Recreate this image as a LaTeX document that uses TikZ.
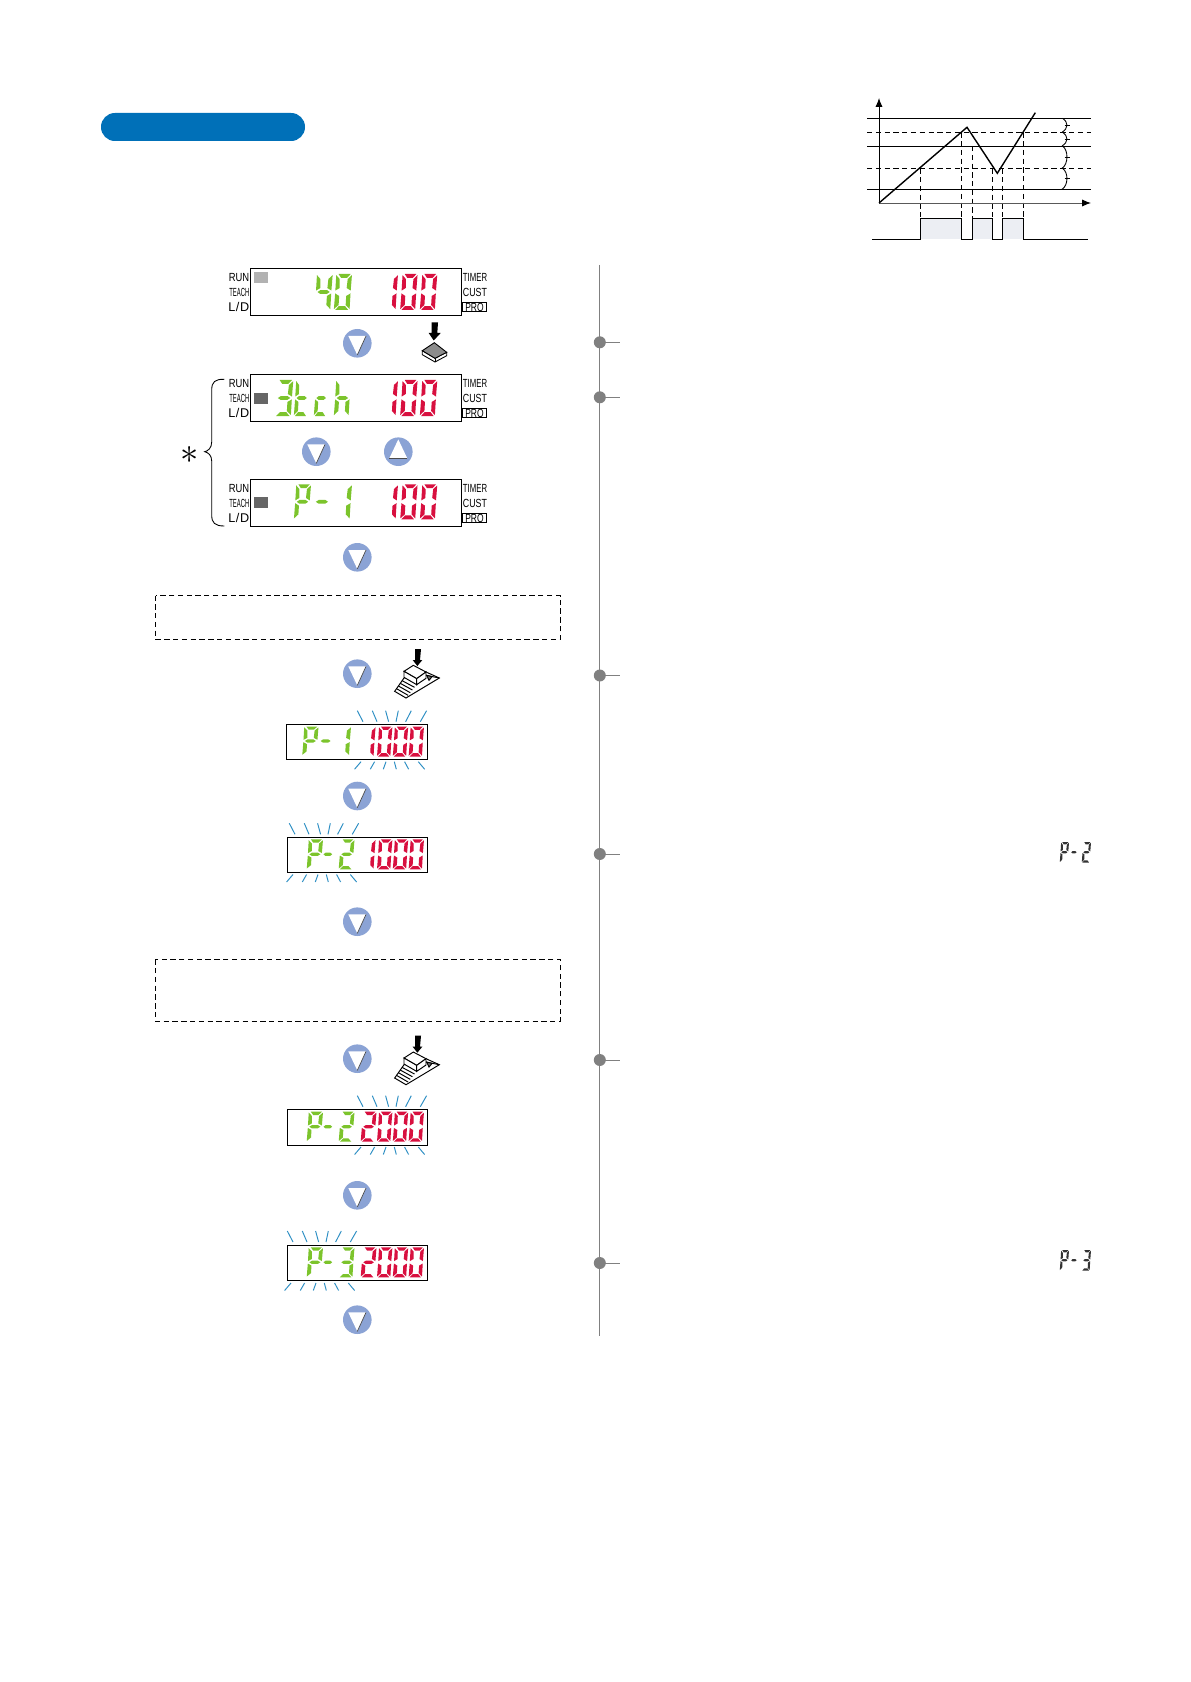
\documentclass[tikz,border=0pt]{standalone}
\usepackage{fontspec}
\setmainfont{Liberation Sans}
\usetikzlibrary{arrows.meta}

\definecolor{pillblue}{HTML}{0070B8}
\definecolor{lcdgreenc}{HTML}{7CC42C}
\definecolor{lcdredc}{HTML}{D8103F}
\definecolor{btnblue}{HTML}{8BA3D5}
\definecolor{rayblue}{HTML}{2E8FC4}
\definecolor{pulsefill}{HTML}{ECEEF3}
\definecolor{railgray}{HTML}{808080}

\tikzset{
  lcdbox/.style={draw=black,line width=0.7pt,fill=white},
  lcdgreen/.style={fill=lcdgreenc},
  lcdred/.style={fill=lcdredc},
  lcdblack/.style={fill=black!80},
  sidelabel/.style={font=\fontsize{6.7}{6.7}\selectfont,inner sep=0pt},
  ray/.style={draw=rayblue,line width=0.55pt},
  rail/.style={draw=railgray,line width=0.45pt},
  gridline/.style={line width=0.55pt},
  griddash/.style={line width=0.5pt,dash pattern=on 3pt off 2pt},
  dashbox/.style={draw=black,line width=0.45pt,dash pattern=on 3pt off 2pt}
}

% segments of one digit, x 0..1 and y 0..2
\newcommand{\sega}{(.16,0) -- (.92,0) -- (.7,.22) -- (.34,.22) -- cycle}
\newcommand{\segb}{(1,.06) -- (.98,.92) -- (.72,.78) -- (.75,.28) -- cycle}
\newcommand{\segc}{(.98,1.08) -- (.98,1.95) -- (.72,1.72) -- (.72,1.22) -- cycle}
\newcommand{\segd}{(.08,2) -- (.9,2) -- (.68,1.78) -- (.3,1.78) -- cycle}
\newcommand{\sege}{(0,1.95) -- (.02,1.08) -- (.28,1.22) -- (.28,1.72) -- cycle}
\newcommand{\segf}{(.02,.06) -- (.02,.92) -- (.28,.78) -- (.25,.28) -- cycle}
\newcommand{\segg}{(.12,1) -- (.3,.89) -- (.7,.89) -- (.88,1) -- (.7,1.11) -- (.3,1.11) -- cycle}

\newcommand{\chrzero}{a,b,c,d,e,f}
\newcommand{\chrone}{b,c}
\newcommand{\chrtwo}{a,b,g,e,d}
\newcommand{\chrthree}{a,b,g,c,d}
\newcommand{\chrfour}{f,g,b,c}
\newcommand{\chrP}{a,b,f,g,e}
\newcommand{\chrdash}{g}
\newcommand{\chrt}{f,e,g,d}
\newcommand{\chrc}{g,e,d}
\newcommand{\chrh}{f,e,g,c}

% x, y, width, height, character, style
\newcommand{\lcdchar}[6]{%
  \begin{scope}[shift={(#1,#2)},xslant=.06,xscale=#3,yscale=#4/2]
    \edef\seglist{\csname chr#5\endcsname}
    \foreach \segname in \seglist {
      \expandafter\let\expandafter\segpath\csname seg\segname\endcsname
      \path[#6] \segpath;
    }
  \end{scope}}

\newcommand{\redhundred}[2]{%
  \lcdchar{383}{#1}{15}{#2}{one}{lcdred}
  \lcdchar{402.3}{#1}{15.3}{#2}{zero}{lcdred}
  \lcdchar{422}{#1}{15.3}{#2}{zero}{lcdred}}

\newcommand{\redzeros}[1]{%
  \foreach \px in {378.8,394.6,410.4} \lcdchar{\px}{#1}{13.6}{30}{zero}{lcdred};}

% top of box, name, fill and top of the small square
\newcommand{\bigdisplay}[4]{%
  \draw[lcdbox] (250.3,#1) rectangle (461.7,#1+47);
  \fill[#3] (254,#4) rectangle (268,#4+10.7);
  \node[sidelabel,anchor=east,xscale=.8] (#2run) at (249.5,#1+9) {RUN};
  \node[sidelabel,anchor=east,xscale=.5] (#2teach) at (249.5,#1+23.7) {TEACH};
  \node[sidelabel,anchor=east,font=\fontsize{7.2}{7.2}\selectfont] (#2ld) at (249.5,#1+38.4) {L\kern.3pt/\kern.3ptD};
  \node[sidelabel,anchor=west,xscale=.66] (#2timer) at (462.7,#1+9) {TIMER};
  \node[sidelabel,anchor=west,xscale=.75] (#2cust) at (462.7,#1+23.7) {CUST};
  \draw[line width=0.5pt] (462.3,#1+34) rectangle (486.7,#1+43.4);
  \node[sidelabel,xscale=.72] (#2pro) at (474.5,#1+38.7) {PRO};}

\newcommand{\btndown}[3]{%
  \fill[btnblue] (#1,#2) circle (14.3);
  \fill[white] (#1-9,#2-7.3) -- (#1+8.7,#2-7.3) -- (#1,#2+11.7) -- cycle;
  \draw[black!70,line width=0.4pt] (#1+8.7,#2-7.3) -- (#1,#2+11.7);
  \coordinate (#3) at (#1,#2);}

% six rays over and under a blinking field
\newcommand{\rays}[4]{%
  \foreach \ta/\tb in {0/5.7,15/19.7,28.3/31.3,41/38.7,54/48.3,69.3/63}
    \draw[ray] (#1+\ta,#2) -- (#1+\tb,#2+11);
  \foreach \ba/\bb in {3.7/-2.7,17.3/13,28.7/26,37/39,47.3/51.3,61/67.3}
    \draw[ray] (#1+\ba,#3) -- (#1+\bb,#3+#4);}

\newcommand{\pressarrow}[2]{%
  \fill[black] (#1-4,#2) -- (#1+2.5,#2) -- (#1+1.8,#2+10.5) -- (#1+5.2,#2+10.5) -- (#1-1.8,#2+18) -- (#1-6.8,#2+10.5) -- (#1-4,#2+10.5) -- cycle;}

\newcommand{\pedal}[2]{%
  \begin{scope}[shift={(#1,#2)},scale=1/3,line width=0.55pt]
    \fill[black] (225,12) -- (243,12) -- (240,45) -- (247,45) -- (232,63) -- (218,45) -- (225,45) -- cycle;
    \draw[fill=white] (258,81) -- (298,99) -- (198,159) -- (164,139) -- (192,99) -- cycle;
    \draw (169.6,131) -- (204.4,151);
    \draw (175.2,123) -- (210.8,143);
    \draw (180.8,115) -- (217.2,135);
    \draw (186.4,107) -- (223.6,127);
    \draw[fill=white] (192,79) -- (220,61) -- (258,81) -- (230,101) -- cycle;
    \draw[fill=white] (192,79) -- (192,97) -- (230,119) -- (230,101) -- cycle;
    \draw[fill=white] (230,101) -- (230,119) -- (258,100) -- (258,81) -- cycle;
    \draw (258,91) -- (298,99);
    \draw[fill=black!55] (260,91) -- (276,95) -- (267,106) -- cycle;
  \end{scope}}

\begin{document}
\begin{tikzpicture}[x=0.02cm,y=-0.02cm]
\useasboundingbox (0,0) rectangle (1190,1682);
\fill[white] (0,0) rectangle (1190,1682);

\fill[pillblue,rounded corners=7.9pt] (101,113) rectangle (305,141);

\fill[pulsefill] (920.3,218.3) rectangle (961.3,239);
\fill[pulsefill] (972.3,218.3) rectangle (992.3,239);
\fill[pulsefill] (1002.7,218.3) rectangle (1023.3,239);

\draw[gridline] (867,118.3) -- (1091,118.3);
\draw[gridline] (867,146) -- (1091,146);
\draw[gridline] (867,189.3) -- (1091,189.3);
\draw[griddash] (867,132.3) -- (1091,132.3);
\draw[griddash] (867,168.3) -- (1091,168.3);

\foreach \tx/\ty in {920.3/168.3,961.3/132.3,972.3/146,992.3/168.3,1002.7/168.3,1023.3/132.3}
  \draw[griddash] (\tx,\ty) -- (\tx,218.3);

\draw[gridline,-{Latex[length=5pt,width=4pt]}] (879,203) -- (879,98);
\draw[gridline,black!65,-{Latex[length=5pt,width=4pt,black]}] (879,203) -- (1091,203);
\draw[line width=0.8pt] (879,203) -- (967,127.3) -- (997.3,173.3) -- (1035.3,112.7);
\draw[gridline] (872,239) -- (920.3,239) -- (920.3,218.3) -- (961.3,218.3) -- (961.3,239) -- (972.3,239) -- (972.3,218.3) -- (992.3,218.3) -- (992.3,239) -- (1002.7,239) -- (1002.7,218.3) -- (1023.3,218.3) -- (1023.3,239) -- (1088,239);

\foreach \ya/\yb/\ym in {118.3/132.3/125.5,132.3/146/139.3,146/168.3/157.3,168.3/189.3/178.5} {
  \draw[line width=0.5pt] (1062.5,\ya) .. controls (1068.5,\ya+4) and (1068.5,\yb-4) .. (1062,\yb);
  \draw[line width=0.4pt] (1064.5,\ym) -- (1070,\ym);
}

\bigdisplay{268.3}{one}{black!30}{272.3}
\lcdchar{316.7}{274}{16}{36}{four}{lcdgreen}
\lcdchar{336}{274}{16}{36}{zero}{lcdgreen}
\redhundred{274}{36}

\btndown{357.3}{343.3}{btnA}
\pressarrow{435.5}{322.5}
\draw[fill=white,line width=0.5pt] (422.3,350.7) -- (422.3,354.7) -- (435,362) -- (446.7,355.7) -- (446.7,352.3) -- (435,358.3) -- cycle;
\draw[fill=black!45,line width=0.5pt] (422.3,350.7) -- (434.3,342.7) -- (446.7,352.3) -- (435,358.3) -- cycle;
\draw[line width=0.5pt] (435,358.3) -- (435,362);

\bigdisplay{374.3}{two}{black!60}{393}
\lcdchar{277}{380}{16.3}{36}{three}{lcdgreen}
\lcdchar{296}{380}{13.5}{36}{t}{lcdgreen}
\lcdchar{316}{380}{12.5}{36}{c}{lcdgreen}
\lcdchar{336}{380}{15}{36}{h}{lcdgreen}
\redhundred{380}{36}

\btndown{316.3}{451.7}{btnB}
\fill[btnblue] (398.3,451.7) circle (14.3);
\fill[white] (398.3,439.4) -- (407.3,458.4) -- (389.3,458.4) -- cycle;
\draw[black!70,line width=0.4pt] (407.3,458.4) -- (389.3,458.4);

\bigdisplay{479.3}{three}{black!60}{497.3}
\lcdchar{296}{484.3}{15}{35}{P}{lcdgreen}
\lcdchar{315}{484.3}{16}{35}{dash}{lcdgreen}
\lcdchar{336}{484.3}{16}{35}{one}{lcdgreen}
\redhundred{484.3}{35}

\draw[line width=0.5pt] (224.3,379.3) .. controls (215,379) and (211.7,382) .. (211.7,390) -- (211.7,442) .. controls (211.7,448) and (208,451) .. (204.7,451.7) .. controls (208,452.5) and (211.7,455) .. (211.7,461) -- (211.7,515) .. controls (211.7,523) and (215,526) .. (224.3,526);
\node[inner sep=0pt] (star) at (189.5,455) {\huge$\ast$};

\btndown{357.3}{557.3}{btnC}
\draw[dashbox] (155.6,595.5) rectangle (560.2,639.5);

\btndown{357.3}{673.7}{btnD}
\pedal{340}{645}

\rays{357.3}{710.7}{761.7}{7.5}
\draw[lcdbox] (286.7,724.3) rectangle (427.3,759.3);
\lcdchar{304}{726.5}{14.5}{29}{P}{lcdgreen}
\lcdchar{320}{726.5}{13}{29}{dash}{lcdgreen}
\lcdchar{336}{726.5}{15}{29}{one}{lcdgreen}
\lcdchar{362}{726.5}{13.6}{30}{one}{lcdred}
\redzeros{726.5}

\btndown{357.3}{796}{btnE}

\rays{289.3}{823.3}{874.5}{7.5}
\draw[lcdbox] (287.3,837.3) rectangle (427.3,872.3);
\lcdchar{308.5}{839.3}{14.5}{30}{P}{lcdgreen}
\lcdchar{323}{839.3}{11.5}{30}{dash}{lcdgreen}
\lcdchar{340.5}{839.3}{14}{30}{two}{lcdgreen}
\lcdchar{362}{839.3}{13.6}{30}{one}{lcdred}
\redzeros{839.3}

\btndown{357.3}{921.7}{btnF}
\draw[dashbox] (155.6,959.3) rectangle (560.2,1021.5);

\btndown{357.3}{1058.7}{btnG}
\pedal{340}{1031.7}

\rays{357.3}{1095.7}{1147}{7.5}
\draw[lcdbox] (287.3,1109.3) rectangle (427.3,1145.3);
\lcdchar{308.5}{1111.7}{14.5}{30}{P}{lcdgreen}
\lcdchar{323}{1111.7}{11.5}{30}{dash}{lcdgreen}
\lcdchar{340.5}{1111.7}{14}{30}{two}{lcdgreen}
\lcdchar{362.5}{1111.7}{14}{30}{two}{lcdred}
\redzeros{1111.7}

\btndown{357.3}{1195.3}{btnH}

\rays{287.3}{1231}{1283}{7.5}
\draw[lcdbox] (287.3,1245.3) rectangle (427.3,1280.3);
\lcdchar{308.5}{1247.3}{14.5}{30}{P}{lcdgreen}
\lcdchar{323}{1247.3}{11.5}{30}{dash}{lcdgreen}
\lcdchar{340.5}{1247.3}{14}{30}{three}{lcdgreen}
\lcdchar{362.5}{1247.3}{14}{30}{two}{lcdred}
\redzeros{1247.3}

\btndown{357.3}{1319.7}{btnI}

\draw[rail] (599.8,265) -- (599.8,1336);
\foreach \dy in {342.3,397.3,675.5,854,1060,1263} {
  \draw[rail] (599.8,\dy) -- (620,\dy);
  \fill[railgray] (599.8,\dy) circle (6);
}

\lcdchar{1061}{842}{8}{20.5}{P}{lcdblack}
\lcdchar{1071}{842}{7}{20.5}{dash}{lcdblack}
\lcdchar{1083}{842}{8}{20.5}{two}{lcdblack}

\lcdchar{1061}{1250}{8}{20.5}{P}{lcdblack}
\lcdchar{1071}{1250}{7}{20.5}{dash}{lcdblack}
\lcdchar{1083}{1250}{8}{20.5}{three}{lcdblack}
\end{tikzpicture}
\end{document}
